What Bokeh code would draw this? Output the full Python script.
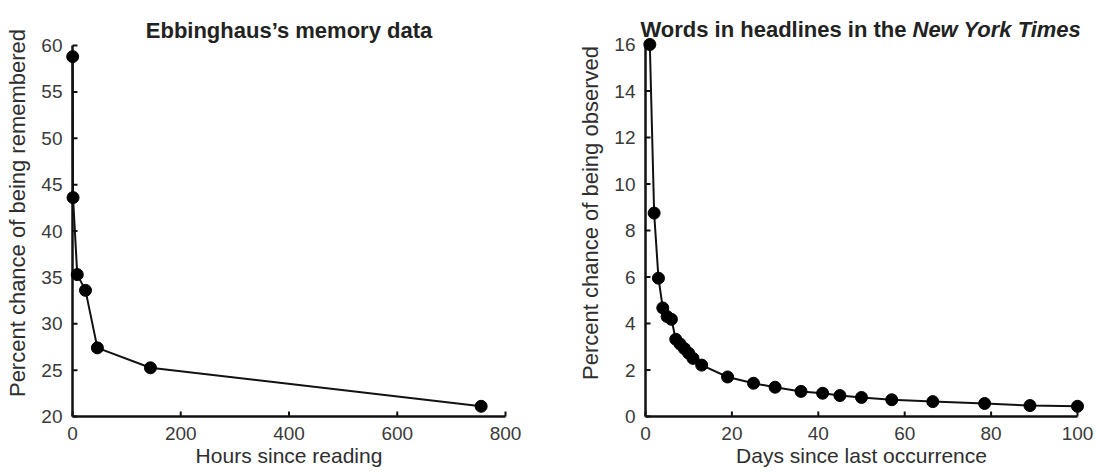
import math
from bokeh.plotting import figure
from bokeh.models import Range1d, Label, FixedTicker
from bokeh.layouts import row
from bokeh.embed import file_html
from bokeh.resources import INLINE

# ---- data ----
ebb_hours = [0.33, 1, 8.8, 24, 46, 144, 755]
ebb_pct = [58.8, 43.6, 35.3, 33.6, 27.4, 25.25, 21.1]
ebb_xticks = [0, 200, 400, 600, 800]
ebb_yticks = [20, 25, 30, 35, 40, 45, 50, 55, 60]

nyt_days = [1, 2, 3, 4, 5, 6, 7, 8, 9, 10, 11, 13, 19, 25, 30, 36, 41, 45, 50, 57, 66.5, 78.5, 89, 100]
nyt_pct = [16.0, 8.75, 5.95, 4.67, 4.3, 4.18, 3.32, 3.12, 2.92, 2.72, 2.5, 2.21, 1.7, 1.43,
           1.26, 1.08, 1.0, 0.9, 0.82, 0.72, 0.64, 0.56, 0.47, 0.44]
nyt_xticks = [0, 20, 40, 60, 80, 100]
nyt_yticks = [0, 2, 4, 6, 8, 10, 12, 14, 16]

FONT = "Liberation Sans"
TICK_COLOR = "#3a3a3a"
LABEL_COLOR = "#2e2e2e"
INK = "#111111"


def style(p, xticks, yticks, xlabel, ylabel):
    xb = (xticks[0], xticks[-1])
    yb = (yticks[0], yticks[-1])
    p.grid.visible = False
    p.outline_line_color = None
    p.background_fill_color = "white"
    p.border_fill_color = "white"
    p.xaxis.bounds = xb
    p.yaxis.bounds = yb
    p.xaxis.ticker = FixedTicker(ticks=xticks)
    p.yaxis.ticker = FixedTicker(ticks=yticks)
    for ax in (p.xaxis[0], p.yaxis[0]):
        ax.axis_line_color = None
        ax.major_tick_line_color = None
        ax.major_tick_in = 0
        ax.major_tick_out = 0
        ax.minor_tick_line_color = None
        ax.major_label_text_font = FONT
        ax.major_label_text_font_size = "19px"
        ax.major_label_text_color = TICK_COLOR
        ax.axis_label_text_font = FONT
        ax.axis_label_text_font_style = "normal"
        ax.axis_label_text_color = LABEL_COLOR
    p.xaxis.axis_label_text_font_size = "21px"
    p.yaxis.axis_label_text_font_size = "22px"
    p.xaxis.major_label_standoff = 3
    p.xaxis.axis_label_standoff = 1
    p.yaxis.major_label_standoff = 3
    p.yaxis.axis_label_standoff = 8
    p.xaxis.axis_label = xlabel
    p.yaxis.axis_label = ylabel
    # axis lines drawn at the data origin (so markers on the axis are not clipped)
    p.segment(x0=[xb[0], xb[0]], y0=[yb[0], yb[0]], x1=[xb[1], xb[0]], y1=[yb[0], yb[1]],
              line_width=2.5, line_color=INK)
    # inward ticks
    p.ray(x=xticks, y=[yb[0]] * len(xticks), length=5, length_units="screen",
          angle=math.pi / 2, line_width=2, line_color=INK)
    p.ray(x=[xb[0]] * len(yticks), y=yticks, length=5, length_units="screen",
          angle=0, line_width=2, line_color=INK)


H = 472
TOP = 2
BOTTOM = 49

# left plot: y=60 at 45, y=20 at 416 (9.275 px/unit); x 0..800 from 72 to 505
ly = 9.275
lx = 433 / 800
p1 = figure(width=575, height=H, title=None,
            x_range=Range1d(-7 / lx, 800 + 7 / lx),
            y_range=Range1d(20 - 7 / ly, 60 + (45 - TOP) / ly),
            output_backend="svg", toolbar_location=None,
            min_border_left=65, min_border_right=63, min_border_top=TOP, min_border_bottom=BOTTOM)
style(p1, ebb_xticks, ebb_yticks, "Hours since reading", "Percent chance of being remembered")
p1.line(ebb_hours, ebb_pct, line_width=2, line_color=INK)
p1.scatter(ebb_hours, ebb_pct, size=12, fill_color="black", line_color="black")
p1.add_layout(Label(x=400, y=60, y_offset=15, text="Ebbinghaus\u2019s memory data",
                    text_align="center", text_baseline="alphabetic",
                    text_font=FONT, text_font_size="22px", text_font_style="bold",
                    text_color="#222222"))

# right plot: y=16 at 44, y=0 at 416 (23.25 px/unit); x 0..100 from 645 to 1077
ry = 23.25
rx = 4.32
p2 = figure(width=520, height=H, title=None,
            x_range=Range1d(-7 / rx, 100 + 7 / rx),
            y_range=Range1d(-7 / ry, 16 + (44 - TOP) / ry),
            output_backend="svg", toolbar_location=None,
            min_border_left=63, min_border_right=11, min_border_top=TOP, min_border_bottom=BOTTOM)
style(p2, nyt_xticks, nyt_yticks, "Days since last occurrence", "Percent chance of being observed")
p2.line(nyt_days, nyt_pct, line_width=2, line_color=INK)
p2.scatter(nyt_days, nyt_pct, size=12, fill_color="black", line_color="black")
p2.add_layout(Label(x=50, y=16, x_offset=45, y_offset=15, text="Words in headlines in the",
                    text_align="right", text_baseline="alphabetic",
                    text_font=FONT, text_font_size="22px", text_font_style="bold",
                    text_color="#222222"))
p2.add_layout(Label(x=50, y=16, x_offset=51, y_offset=15, text="New York Times",
                    text_align="left", text_baseline="alphabetic",
                    text_font=FONT, text_font_size="22px", text_font_style="bold italic",
                    text_color="#222222"))

layout = row(p1, p2)
open("out.html", "w").write(file_html(layout, INLINE))
